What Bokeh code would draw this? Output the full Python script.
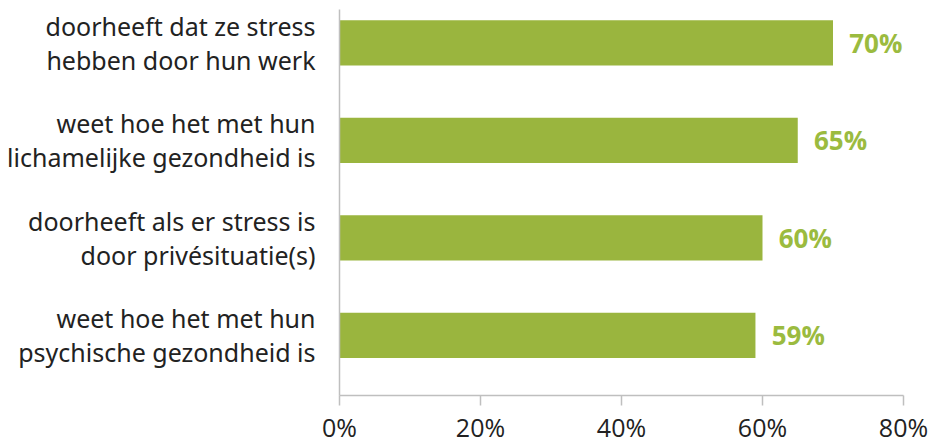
from bokeh.plotting import figure
from bokeh.models import ColumnDataSource, FixedTicker, PrintfTickFormatter, Range1d
from bokeh.core.properties import value
from bokeh.embed import file_html
from bokeh.resources import INLINE

categories = [
    "doorheeft dat ze stress\nhebben door hun werk",
    "weet hoe het met hun\nlichamelijke gezondheid is",
    "doorheeft als er stress is\ndoor privésituatie(s)",
    "weet hoe het met hun\npsychische gezondheid is",
]
values = [70, 65, 60, 59]
value_labels = ["70%", "65%", "60%", "59%"]
x_ticks = [0, 20, 40, 60, 80]

n = len(categories)
ypos = [n - 1 - i for i in range(n)]

src = ColumnDataSource(dict(y=ypos, v=values, lab=value_labels,
                            lx=[v + 2.3 for v in values]))

p = figure(width=931, height=446, output_backend="svg", toolbar_location=None,
           x_range=Range1d(0, 80), y_range=Range1d(-0.617, 3.342),
           min_border_left=339, min_border_right=28, min_border_top=9,
           min_border_bottom=49)

p.hbar(y="y", right="v", left=0, height=0.464, source=src,
       fill_color="#9AB53E", line_color=None)
p.text(x="lx", y="y", text="lab", source=src, text_color="#9BBB3F",
       text_font=value("Open Sans"), text_font_style="bold",
       text_font_size="26px", text_baseline="middle", text_align="left")

p.xgrid.visible = False
p.ygrid.visible = False
p.outline_line_color = None

xa = p.xaxis[0]
xa.ticker = FixedTicker(ticks=x_ticks)
xa.formatter = PrintfTickFormatter(format="%d%%")
xa.axis_line_color = "#BFBFBF"
xa.axis_line_width = 1.5
xa.major_tick_line_color = "#BFBFBF"
xa.major_tick_line_width = 1.5
xa.major_tick_out = 10
xa.major_tick_in = 0
xa.minor_tick_line_color = None
xa.major_label_text_font = "Open Sans"
xa.major_label_text_font_size = "25px"
xa.major_label_text_color = "#222222"
xa.major_label_standoff = 4

ya = p.yaxis[0]
ya.ticker = FixedTicker(ticks=ypos)
ya.major_label_overrides = {yp: c for yp, c in zip(ypos, categories)}
ya.axis_line_color = "#BFBFBF"
ya.axis_line_width = 1.5
ya.major_tick_line_color = None
ya.minor_tick_line_color = None
ya.major_label_text_font = "Noto Sans"
ya.major_label_text_font_size = "25px"
ya.major_label_text_color = "#222222"
ya.major_label_standoff = 18
ya.major_label_text_align = "right"
ya.major_label_text_line_height = 1.0

open("out.html", "w").write(file_html(p, INLINE))
